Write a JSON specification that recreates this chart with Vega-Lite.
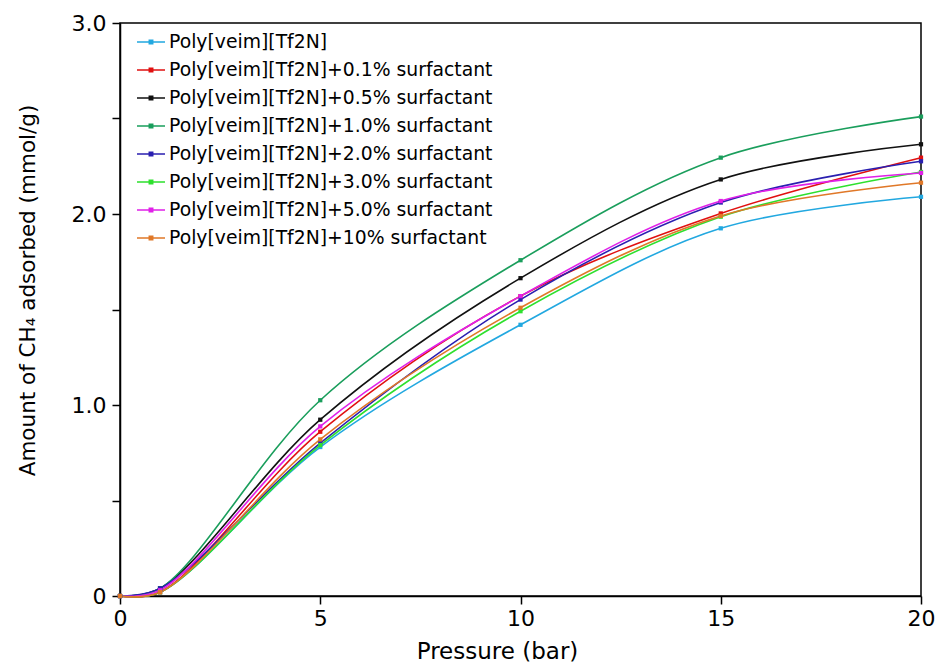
{
  "$schema": "https://vega.github.io/schema/vega-lite/v6.json",
  "autosize": "none",
  "width": 801,
  "height": 573,
  "padding": {"left": 120, "top": 23, "right": 18, "bottom": 72},
  "background": "white",
  "config": {
    "font": "DejaVu Sans",
    "view": {"stroke": "black", "strokeWidth": 1.5},
    "axis": {
      "domainColor": "black", "domainWidth": 1.5, "tickColor": "black", "tickWidth": 1.5,
      "tickSize": 8, "grid": false, "labelFontSize": 22, "labelColor": "black",
      "titleFontWeight": "normal", "titleColor": "black", "labelPadding": 4, "labelFlush": false
    }
  },
  "data": {
    "values": [
      {"p": 0, "v": 0, "s": "Poly[veim][Tf2N]"},
      {"p": 1, "v": 0.02, "s": "Poly[veim][Tf2N]"},
      {"p": 5, "v": 0.78, "s": "Poly[veim][Tf2N]"},
      {"p": 10, "v": 1.42, "s": "Poly[veim][Tf2N]"},
      {"p": 15, "v": 1.925, "s": "Poly[veim][Tf2N]"},
      {"p": 20, "v": 2.09, "s": "Poly[veim][Tf2N]"},
      {"p": 0, "v": 0, "s": "Poly[veim][Tf2N]+0.1% surfactant"},
      {"p": 1, "v": 0.02, "s": "Poly[veim][Tf2N]+0.1% surfactant"},
      {"p": 5, "v": 0.86, "s": "Poly[veim][Tf2N]+0.1% surfactant"},
      {"p": 10, "v": 1.57, "s": "Poly[veim][Tf2N]+0.1% surfactant"},
      {"p": 15, "v": 2.003, "s": "Poly[veim][Tf2N]+0.1% surfactant"},
      {"p": 20, "v": 2.295, "s": "Poly[veim][Tf2N]+0.1% surfactant"},
      {"p": 0, "v": 0, "s": "Poly[veim][Tf2N]+0.5% surfactant"},
      {"p": 1, "v": 0.04, "s": "Poly[veim][Tf2N]+0.5% surfactant"},
      {"p": 5, "v": 0.923, "s": "Poly[veim][Tf2N]+0.5% surfactant"},
      {"p": 10, "v": 1.664, "s": "Poly[veim][Tf2N]+0.5% surfactant"},
      {"p": 15, "v": 2.181, "s": "Poly[veim][Tf2N]+0.5% surfactant"},
      {"p": 20, "v": 2.365, "s": "Poly[veim][Tf2N]+0.5% surfactant"},
      {"p": 0, "v": 0, "s": "Poly[veim][Tf2N]+1.0% surfactant"},
      {"p": 1, "v": 0.04, "s": "Poly[veim][Tf2N]+1.0% surfactant"},
      {"p": 5, "v": 1.025, "s": "Poly[veim][Tf2N]+1.0% surfactant"},
      {"p": 10, "v": 1.758, "s": "Poly[veim][Tf2N]+1.0% surfactant"},
      {"p": 15, "v": 2.295, "s": "Poly[veim][Tf2N]+1.0% surfactant"},
      {"p": 20, "v": 2.51, "s": "Poly[veim][Tf2N]+1.0% surfactant"},
      {"p": 0, "v": 0, "s": "Poly[veim][Tf2N]+2.0% surfactant"},
      {"p": 1, "v": 0.04, "s": "Poly[veim][Tf2N]+2.0% surfactant"},
      {"p": 5, "v": 0.80, "s": "Poly[veim][Tf2N]+2.0% surfactant"},
      {"p": 10, "v": 1.552, "s": "Poly[veim][Tf2N]+2.0% surfactant"},
      {"p": 15, "v": 2.06, "s": "Poly[veim][Tf2N]+2.0% surfactant"},
      {"p": 20, "v": 2.276, "s": "Poly[veim][Tf2N]+2.0% surfactant"},
      {"p": 0, "v": 0, "s": "Poly[veim][Tf2N]+3.0% surfactant"},
      {"p": 1, "v": 0.02, "s": "Poly[veim][Tf2N]+3.0% surfactant"},
      {"p": 5, "v": 0.79, "s": "Poly[veim][Tf2N]+3.0% surfactant"},
      {"p": 10, "v": 1.491, "s": "Poly[veim][Tf2N]+3.0% surfactant"},
      {"p": 15, "v": 1.986, "s": "Poly[veim][Tf2N]+3.0% surfactant"},
      {"p": 20, "v": 2.22, "s": "Poly[veim][Tf2N]+3.0% surfactant"},
      {"p": 0, "v": 0, "s": "Poly[veim][Tf2N]+5.0% surfactant"},
      {"p": 1, "v": 0.03, "s": "Poly[veim][Tf2N]+5.0% surfactant"},
      {"p": 5, "v": 0.888, "s": "Poly[veim][Tf2N]+5.0% surfactant"},
      {"p": 10, "v": 1.57, "s": "Poly[veim][Tf2N]+5.0% surfactant"},
      {"p": 15, "v": 2.068, "s": "Poly[veim][Tf2N]+5.0% surfactant"},
      {"p": 20, "v": 2.215, "s": "Poly[veim][Tf2N]+5.0% surfactant"},
      {"p": 0, "v": 0, "s": "Poly[veim][Tf2N]+10% surfactant"},
      {"p": 1, "v": 0.02, "s": "Poly[veim][Tf2N]+10% surfactant"},
      {"p": 5, "v": 0.82, "s": "Poly[veim][Tf2N]+10% surfactant"},
      {"p": 10, "v": 1.509, "s": "Poly[veim][Tf2N]+10% surfactant"},
      {"p": 15, "v": 1.99, "s": "Poly[veim][Tf2N]+10% surfactant"},
      {"p": 20, "v": 2.164, "s": "Poly[veim][Tf2N]+10% surfactant"}
    ]
  },
  "encoding": {
    "x": {
      "field": "p", "type": "quantitative", "title": "Pressure (bar)",
      "scale": {"domain": [0, 20], "nice": false},
      "axis": {"values": [0, 5, 10, 15, 20], "titlePadding": 11, "titleFontSize": 23, "titleX": 377}
    },
    "y": {
      "field": "v", "type": "quantitative", "title": "Amount of CH₄ adsorbed (mmol/g)",
      "scale": {"domain": [0, 3], "nice": false},
      "axis": {
        "values": [0, 0.5, 1, 1.5, 2, 2.5, 3],
        "labelExpr": "datum.value == 0 ? '0' : (datum.value % 1 == 0 ? format(datum.value, '.1f') : '')",
        "titlePadding": 32, "labelPadding": 6, "titleFontSize": 21.5, "titleY": 267
      }
    },
    "color": {
      "field": "s", "type": "nominal",
      "scale": {
        "domain": ["Poly[veim][Tf2N]", "Poly[veim][Tf2N]+0.1% surfactant", "Poly[veim][Tf2N]+0.5% surfactant", "Poly[veim][Tf2N]+1.0% surfactant", "Poly[veim][Tf2N]+2.0% surfactant", "Poly[veim][Tf2N]+3.0% surfactant", "Poly[veim][Tf2N]+5.0% surfactant", "Poly[veim][Tf2N]+10% surfactant"],
        "range": ["#22a8e0", "#e01010", "#111111", "#1a9e5c", "#2a1fb0", "#2ee02e", "#e020e8", "#e07828"]
      },
      "legend": {
        "title": null, "orient": "none", "legendX": 16, "legendY": 4,
        "symbolType": "M-1,0H1M-0.12,-0.12H0.12V0.12H-0.12Z",
        "symbolSize": 784, "symbolStrokeWidth": 1.6,
        "labelFontSize": 18.8, "labelColor": "black", "rowPadding": 3, "labelOffset": 3,
        "labelLimit": 500
      }
    }
  },
  "layer": [
    {"mark": {"type": "line", "interpolate": "catmull-rom", "strokeWidth": 1.6}},
    {"mark": {"type": "point", "filled": true, "size": 18, "shape": "square", "opacity": 1}}
  ]
}
